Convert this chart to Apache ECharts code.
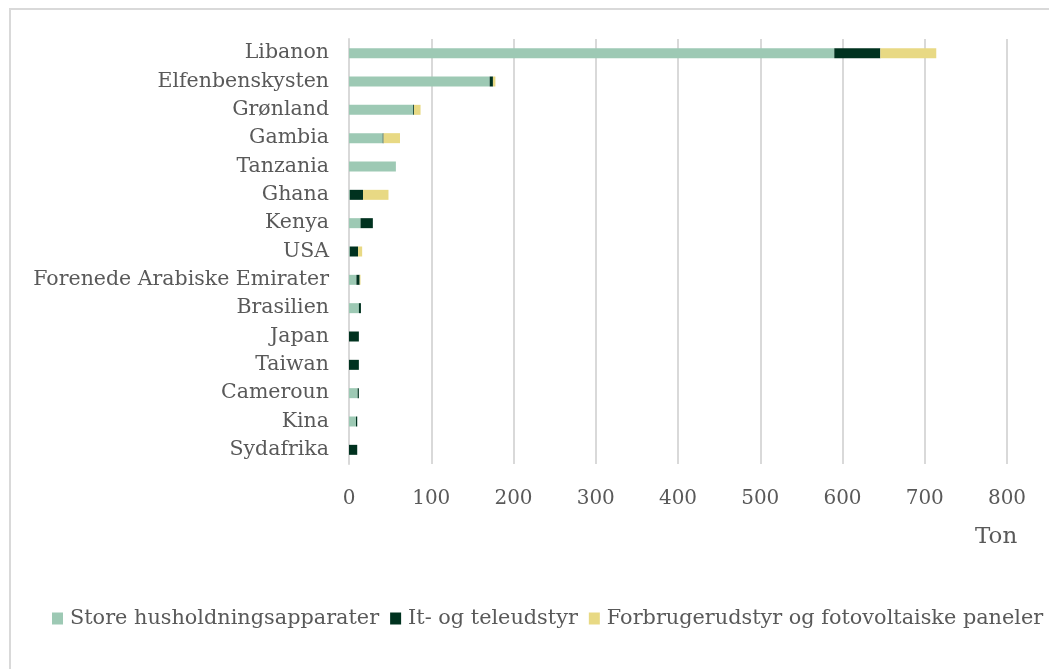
<!DOCTYPE html>
<html>
<head>
<meta charset="utf-8">
<script src="https://cdn.jsdelivr.net/npm/echarts@6/dist/echarts.min.js"></script>
<style>html,body{margin:0;padding:0;background:#fff}#c{width:1049px;height:669px}</style>
</head>
<body>
<div id="c"></div>
<script>
const categories = ["Libanon","Elfenbenskysten","Grønland","Gambia","Tanzania","Ghana","Kenya","USA","Forenede Arabiske Emirater","Brasilien","Japan","Taiwan","Cameroun","Kina","Sydafrika"];
const seriesNames = ["Store husholdningsapparater","It- og teleudstyr","Forbrugerudstyr og fotovoltaiske paneler"];
const storeHus = [590, 171, 78, 41, 57, 1, 14, 1, 9, 12, 0, 0, 10.5, 8.5, 0];
const itTele   = [56, 4, 1, 1, 0, 16, 15, 10, 4, 2.5, 12, 12, 1.5, 1.5, 10];
const forbrug  = [68, 3, 8, 20, 0, 31, 0, 5, 1, 0, 0, 0, 0, 0, 0];
const xTicks = [0,100,200,300,400,500,600,700,800];
const colors = ["#9DC9B4","#00321F","#E8D984"];
const font = "DejaVu Serif";
const chart = echarts.init(document.getElementById('c'));
const data = [storeHus, itTele, forbrug];
chart.setOption({
  animation:false,
  textStyle:{fontFamily:font,color:'#595959'},
  grid:{left:349,right:42,top:39,bottom:205,containLabel:false},
  xAxis:{type:'value',min:xTicks[0],max:xTicks[xTicks.length-1],interval:100,
    axisLine:{show:false},axisTick:{show:false},
    axisLabel:{fontFamily:font,fontSize:20,color:'#595959',margin:25},
    splitLine:{show:true,lineStyle:{color:'#d9d9d9',width:2}}},
  yAxis:{type:'category',data:categories,inverse:true,
    axisLine:{show:true,lineStyle:{color:'#d9d9d9',width:2}},axisTick:{show:false},
    axisLabel:{fontFamily:font,fontSize:20.5,color:'#595959',margin:20}},
  legend:{bottom:35,left:47,itemWidth:11,itemHeight:12,itemGap:11,icon:'rect',
    textStyle:{fontFamily:font,fontSize:20.8,color:'#595959',padding:[0,0,0,2]},
    data:seriesNames},
  graphic:[
    {type:'rect',shape:{x:10,y:9,width:1100,height:700},style:{fill:'none',stroke:'#d9d9d9',lineWidth:2},silent:true},
    {type:'text',left:975,top:526,style:{text:'Ton',font:'23px "DejaVu Serif"',fill:'#595959'}}
  ],
  series: seriesNames.map((n,i)=>({name:n,type:'bar',stack:'s',data:data[i],barWidth:10,
    itemStyle:{color:colors[i]}}))
});
</script>
</body>
</html>
